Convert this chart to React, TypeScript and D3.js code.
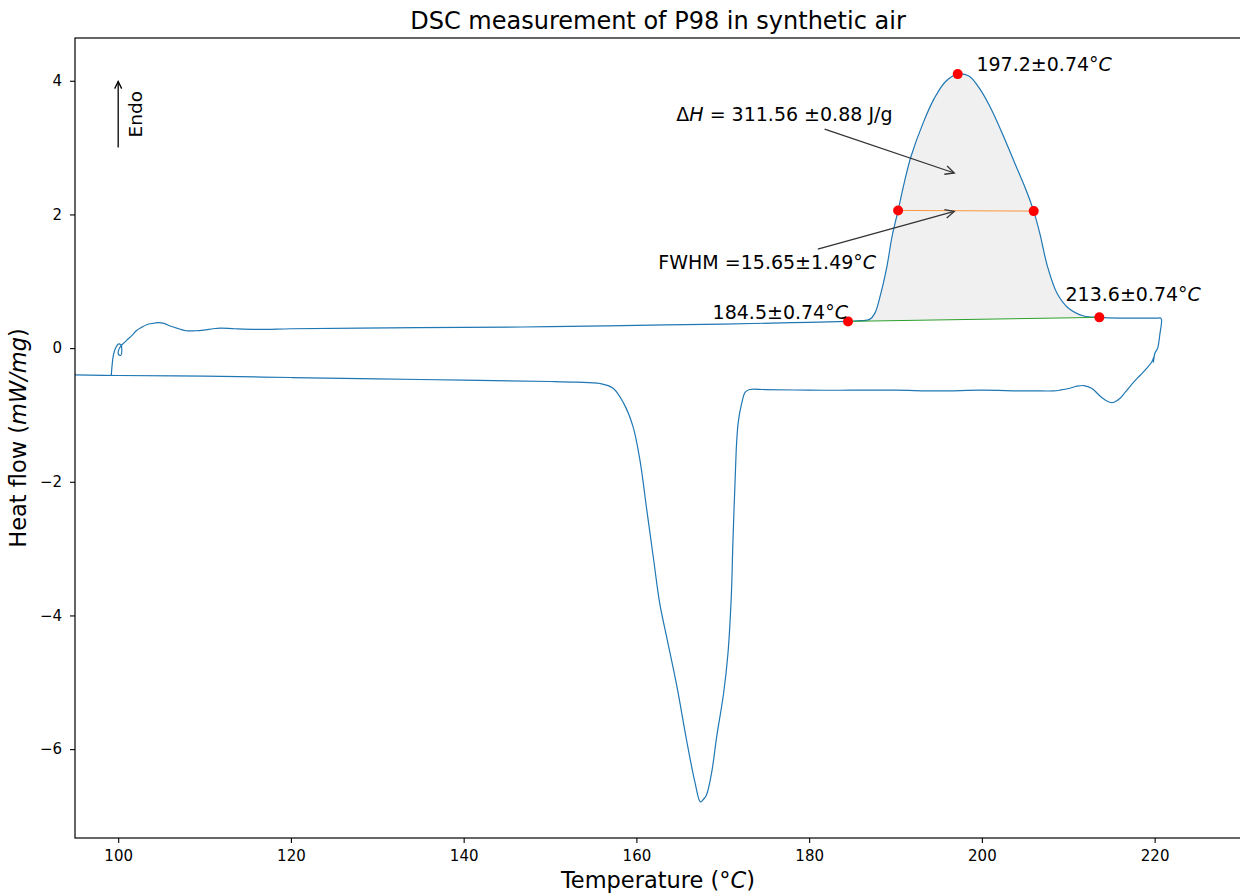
import React, { useEffect, useRef } from 'react';
import * as d3 from 'd3';

// heating run, in time order (°C, mW/mg)
const heatT = [99.2, 99.3, 99.45, 99.7, 100.0, 100.3, 100.42, 100.28, 100.02, 100.05, 100.3, 100.6, 101.0, 101.6, 102.1, 102.7, 103.3, 104.0, 104.6, 105.3, 106.0, 107.0, 107.9, 108.9, 109.9, 111.0, 111.8, 113.5, 116.4, 120.0, 128.0, 140.0, 150.0, 160.0, 170.0, 178.0, 184.5, 186.0, 187.0, 187.6, 188.3, 189.0, 189.6, 190.3, 191.0, 191.8, 193.2, 194.5, 195.8, 197.2, 198.5, 199.8, 201.1, 202.5, 203.8, 205.1, 206.0, 206.7, 207.6, 208.7, 210.0, 211.8, 213.6, 216.0, 218.5, 220.4, 220.7];
const heatHF = [-0.41, -0.25, -0.10, 0.00, 0.06, 0.05, -0.02, -0.11, -0.09, -0.03, 0.03, 0.07, 0.12, 0.19, 0.26, 0.31, 0.35, 0.37, 0.38, 0.37, 0.33, 0.29, 0.26, 0.26, 0.27, 0.29, 0.30, 0.29, 0.28, 0.29, 0.30, 0.31, 0.32, 0.34, 0.36, 0.38, 0.40, 0.41, 0.43, 0.52, 0.82, 1.22, 1.67, 2.06, 2.47, 2.87, 3.37, 3.74, 3.99, 4.10, 4.07, 3.87, 3.57, 3.17, 2.77, 2.37, 2.05, 1.72, 1.22, 0.82, 0.60, 0.48, 0.46, 0.45, 0.45, 0.45, 0.45];

// cooling run, in time order
const coolT = [220.8, 220.6, 220.35, 220.05, 219.85, 219.95, 219.7, 219.1, 218.3, 217.5, 216.6, 216.0, 215.3, 214.8, 214.2, 213.7, 212.7, 211.8, 211.0, 210.2, 209.0, 208.3, 206.0, 204.4, 200.0, 195.0, 190.0, 185.0, 180.0, 175.0, 173.1, 172.6, 172.2, 171.8, 171.6, 171.45, 171.3, 171.15, 171.0, 170.6, 170.1, 169.3, 168.7, 168.1, 167.7, 167.4, 166.8, 165.8, 164.7, 163.5, 162.7, 162.0, 161.2, 160.4, 159.6, 158.5, 157.3, 155.8, 153.0, 150.0, 140.0, 130.0, 120.0, 110.0, 100.0, 95.0];
const coolHF = [0.42, 0.20, 0.00, -0.07, -0.21, -0.12, -0.20, -0.30, -0.41, -0.52, -0.66, -0.75, -0.81, -0.81, -0.77, -0.72, -0.60, -0.56, -0.57, -0.60, -0.63, -0.64, -0.64, -0.64, -0.63, -0.64, -0.63, -0.63, -0.63, -0.62, -0.62, -0.66, -0.82, -1.10, -1.42, -1.90, -2.42, -3.00, -3.67, -4.57, -5.16, -5.81, -6.36, -6.69, -6.76, -6.79, -6.51, -5.86, -5.07, -4.32, -3.82, -3.17, -2.42, -1.67, -1.17, -0.82, -0.60, -0.53, -0.51, -0.50, -0.48, -0.46, -0.44, -0.42, -0.41, -0.40];

// onset, FWHM left, peak, FWHM right, endset
const markT = [184.5, 190.3, 197.2, 206.0, 213.6];
const markHF = [0.40, 2.06, 4.10, 2.05, 0.46];

const xTicks = [100, 120, 140, 160, 180, 200, 220];
const yTicks = [-6, -4, -2, 0, 2, 4];

const FONT = "'DejaVu Sans', sans-serif";

const App = () => {
  const ref = useRef<SVGSVGElement>(null);

  useEffect(() => {
    const svg = d3.select(ref.current);
    svg.selectAll('*').remove();

    const left = 75, right = 1241, top = 38, bottom = 838;
    const x = d3.scaleLinear().domain([95, 230]).range([left, right]);
    const y = d3.scaleLinear().domain([-7.33, 4.64]).range([bottom, top]);

    svg.append('defs').append('clipPath').attr('id', 'plotclip')
      .append('rect').attr('x', left).attr('y', top)
      .attr('width', right - left).attr('height', bottom - top);

    const plot = svg.append('g').attr('clip-path', 'url(#plotclip)');

    const pts: [number, number][] = [];
    heatT.forEach((t, i) => pts.push([t, heatHF[i]]));
    coolT.forEach((t, i) => pts.push([t, coolHF[i]]));

    // shaded area between peak and baseline
    const t0 = markT[0], t1 = markT[4];
    const b0 = markHF[0], b1 = markHF[4];
    const base = (t: number) => b0 + (b1 - b0) * (t - t0) / (t1 - t0);
    const peakPts: [number, number][] = [];
    heatT.forEach((t, i) => { if (t >= t0 && t <= t1) peakPts.push([t, heatHF[i]]); });
    const area = d3.area<[number, number]>()
      .x(d => x(d[0])).y0(d => y(base(d[0]))).y1(d => y(d[1]))
      .curve(d3.curveCatmullRom.alpha(0.5));
    plot.append('path').datum(peakPts).attr('d', area).attr('fill', '#f0f0f0');

    const line = d3.line<[number, number]>()
      .x(d => x(d[0])).y(d => y(d[1]))
      .curve(d3.curveCatmullRom.alpha(0.5));
    plot.append('path').datum(pts).attr('d', line)
      .attr('fill', 'none').attr('stroke', '#1f77b4').attr('stroke-width', 1.2);

    // baseline and FWHM
    plot.append('line')
      .attr('x1', x(t0)).attr('y1', y(b0)).attr('x2', x(t1)).attr('y2', y(b1))
      .attr('stroke', '#2ca02c').attr('stroke-width', 1);
    plot.append('line')
      .attr('x1', x(markT[1])).attr('y1', y(markHF[1])).attr('x2', x(markT[3])).attr('y2', y(markHF[3]))
      .attr('stroke', '#ff7f0e').attr('stroke-opacity', 0.8).attr('stroke-width', 1);

    plot.selectAll('circle.mark').data(markT).enter().append('circle')
      .attr('class', 'mark')
      .attr('cx', d => x(d)).attr('cy', (d, i) => y(markHF[i]))
      .attr('r', 5).attr('fill', '#ff0000');

    // spines
    svg.append('rect').attr('x', left).attr('y', top)
      .attr('width', right - left).attr('height', bottom - top)
      .attr('fill', 'none').attr('stroke', '#000').attr('stroke-width', 1.2);

    // axes
    const xAxis = svg.append('g').attr('transform', `translate(0,${bottom})`)
      .call(d3.axisBottom(x).tickValues(xTicks).tickSize(5).tickPadding(7).tickFormat(d3.format('d')));
    const yAxis = svg.append('g').attr('transform', `translate(${left},0)`)
      .call(d3.axisLeft(y).tickValues(yTicks).tickSize(5).tickPadding(8).tickFormat(d3.format('d')));
    [xAxis, yAxis].forEach(a => {
      a.select('.domain').remove();
      a.selectAll('line').attr('stroke', '#000').attr('stroke-width', 1.1);
      a.selectAll('text').attr('font-family', FONT).attr('font-size', 15).attr('fill', '#000');
    });

    // title and labels
    svg.append('text').attr('x', (left + right) / 2).attr('y', 28.5)
      .attr('text-anchor', 'middle').attr('font-family', FONT).attr('font-size', 24)
      .text('DSC measurement of P98 in synthetic air');

    const xl = svg.append('text').attr('x', (left + right) / 2).attr('y', 888)
      .attr('text-anchor', 'middle').attr('font-family', FONT).attr('font-size', 22.5);
    xl.append('tspan').text('Temperature (°');
    xl.append('tspan').attr('font-style', 'italic').text('C');
    xl.append('tspan').text(')');

    const yl = svg.append('text')
      .attr('transform', `translate(26,${(top + bottom) / 2}) rotate(-90)`)
      .attr('text-anchor', 'middle').attr('font-family', FONT).attr('font-size', 22.5);
    yl.append('tspan').text('Heat flow (');
    yl.append('tspan').attr('font-style', 'italic').text('mW/mg');
    yl.append('tspan').text(')');

    // annotations
    const arrow = (xa: number, ya: number, xb: number, yb: number, head: number, color: string, w: number) => {
      const g = svg.append('g').attr('stroke', color).attr('stroke-width', w).attr('fill', 'none');
      g.append('line').attr('x1', xa).attr('y1', ya).attr('x2', xb).attr('y2', yb);
      const ang = Math.atan2(yb - ya, xb - xa);
      const spread = 0.45;
      const p = (s: number) => [xb - head * Math.cos(ang + s), yb - head * Math.sin(ang + s)];
      const [ax, ay] = p(spread), [bx, by] = p(-spread);
      g.append('path').attr('d', `M${ax},${ay}L${xb},${yb}L${bx},${by}`);
    };

    const label = (tx: number, ty: number, parts: [string, boolean][]) => {
      const t = svg.append('text').attr('x', x(tx)).attr('y', y(ty))
        .attr('font-family', FONT).attr('font-size', 19).attr('fill', '#000');
      parts.forEach(([s, it]) => {
        const sp = t.append('tspan').text(s);
        if (it) sp.attr('font-style', 'italic');
      });
    };

    label(199.37, 4.144, [['197.2±0.74°', false], ['C', true]]);
    label(164.62, 3.395, [['Δ', false], ['H', true], [' = 311.56 ±0.88 J/g', false]]);
    label(162.54, 1.187, [['FWHM =15.65±1.49°', false], ['C', true]]);
    label(168.82, 0.438, [['184.5±0.74°', false], ['C', true]]);
    label(209.68, 0.70, [['213.6±0.74°', false], ['C', true]]);

    arrow(x(181.79), y(3.278), x(196.8), y(2.62), 10, '#333', 1.3);
    arrow(x(181.0), y(1.482), x(196.8), y(2.045), 10, '#333', 1.3);

    // endotherm direction
    arrow(x(100), y(3.0), x(100), y(3.99), 8, '#000', 1.3);
    svg.append('text')
      .attr('transform', `translate(${x(102.76)},${y(3.5)}) rotate(-90)`)
      .attr('text-anchor', 'middle').attr('font-family', FONT).attr('font-size', 18.5)
      .text('Endo');
  }, []);

  return (
    <svg ref={ref} width={1240} height={895}
      style={{ position: 'absolute', left: 0, top: 0, background: '#fff' }} />
  );
};

export default App;
